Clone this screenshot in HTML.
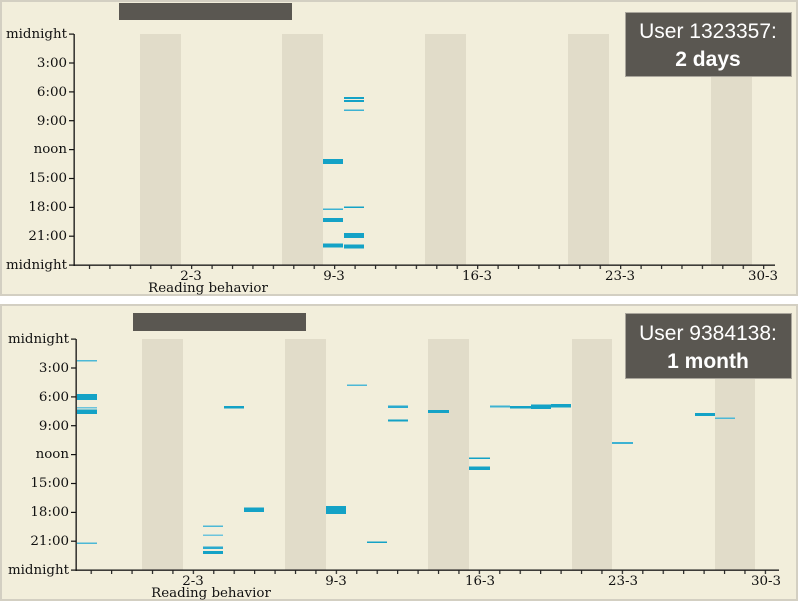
<!DOCTYPE html>
<html><head><meta charset="utf-8"><style>
html,body{margin:0;padding:0;background:#fff;}
svg{display:block;}
.t{font-family:"DejaVu Serif","Liberation Serif",serif;font-size:13.4px;fill:#111;}
.b{font-family:"Liberation Sans",sans-serif;font-size:21px;fill:#fff;}
</style></head><body>
<svg width="800" height="603" viewBox="0 0 800 603" xmlns="http://www.w3.org/2000/svg">
<defs>
<pattern id="tk1" x="88.9" y="0" width="20.43" height="10" patternUnits="userSpaceOnUse"><rect x="0" y="0" width="1.2" height="10" fill="#222"/></pattern>
<pattern id="tk2" x="90.6" y="0" width="20.43" height="10" patternUnits="userSpaceOnUse"><rect x="0" y="0" width="1.2" height="10" fill="#222"/></pattern>
</defs>
<!-- TOP PANEL -->
<rect x="1" y="1" width="796" height="294" fill="#f2eedb" stroke="#d3cfc2" stroke-width="2"/>
<g fill="#e1dcc9">
<rect x="140" y="34" width="41" height="231"/><rect x="282" y="34" width="41" height="231"/><rect x="425" y="34" width="41" height="231"/><rect x="568" y="34" width="41" height="231"/><rect x="711" y="34" width="41" height="231"/>
</g>
<rect x="119" y="3" width="173" height="17" fill="#5a5751"/>
<g fill="#14a2c6">
<rect x="323" y="159" width="20" height="5"/>
<rect x="323" y="208.5" width="20" height="1.5" fill="#3db2d2"/>
<rect x="323" y="218" width="20" height="4"/>
<rect x="323" y="243.5" width="20" height="4"/>
<rect x="344" y="97" width="20" height="2"/>
<rect x="344" y="100" width="20" height="2"/>
<rect x="344" y="109.5" width="20" height="1.5" fill="#3db2d2"/>
<rect x="344" y="206.5" width="20" height="1.5"/>
<rect x="344" y="233" width="20" height="5"/>
<rect x="344" y="244.5" width="20" height="4"/>
</g>
<rect x="73.5" y="34" width="1.3" height="232" fill="#111"/>
<rect x="74" y="264.5" width="701" height="1.3" fill="#111"/>
<rect x="88" y="265" width="682" height="4" fill="url(#tk1)"/>
<g fill="#111">
<rect x="69" y="33.5" width="5" height="1.2"/><rect x="69" y="62.4" width="5" height="1.2"/><rect x="69" y="91.3" width="5" height="1.2"/><rect x="69" y="120.1" width="5" height="1.2"/><rect x="69" y="149" width="5" height="1.2"/><rect x="69" y="177.9" width="5" height="1.2"/><rect x="69" y="206.8" width="5" height="1.2"/><rect x="69" y="235.6" width="5" height="1.2"/><rect x="69" y="264.5" width="5" height="1.2"/>
</g>
<g class="t" text-anchor="end">
<text x="67" y="38">midnight</text><text x="67" y="67">3:00</text><text x="67" y="96">6:00</text><text x="67" y="125">9:00</text><text x="67" y="153">noon</text><text x="67" y="182">15:00</text><text x="67" y="211">18:00</text><text x="67" y="240">21:00</text><text x="67" y="269">midnight</text>
</g>
<g class="t" text-anchor="middle">
<text x="191" y="280">2-3</text><text x="334" y="280">9-3</text><text x="477" y="280">16-3</text><text x="620" y="280">23-3</text><text x="763" y="280">30-3</text>
<text x="208" y="292">Reading behavior</text>
</g>
<rect x="625.5" y="12.5" width="166" height="64" fill="#5a5751" stroke="#aaa69c" stroke-width="1"/>
<text class="b" x="708" y="38" text-anchor="middle">User 1323357:</text>
<text class="b" x="708" y="66" text-anchor="middle" font-weight="bold">2 days</text>

<!-- BOTTOM PANEL -->
<rect x="1" y="305" width="796" height="295" fill="#f2eedb" stroke="#d3cfc2" stroke-width="2"/>
<g fill="#e1dcc9">
<rect x="142" y="339" width="41" height="231"/><rect x="285" y="339" width="41" height="231"/><rect x="428" y="339" width="41" height="231"/><rect x="572" y="339" width="40" height="231"/><rect x="715" y="339" width="40" height="231"/>
</g>
<rect x="133" y="313" width="173" height="18" fill="#5a5751"/>
<g fill="#14a2c6">
<rect x="77" y="360" width="20" height="1.5" fill="#4cb8d6"/>
<rect x="77" y="394" width="20" height="6"/>
<rect x="77" y="407" width="20" height="1.5" fill="#6cc4dc"/>
<rect x="77" y="409.5" width="20" height="4.5"/>
<rect x="77" y="542.5" width="20" height="1.5" fill="#4cb8d6"/>
<rect x="224" y="406" width="20" height="2.5"/>
<rect x="203" y="525.5" width="20" height="1.5" fill="#4cb8d6"/>
<rect x="203" y="534.5" width="20" height="1.5" fill="#6cc4dc"/>
<rect x="203" y="546.5" width="20" height="2.5" fill="#2aaace"/>
<rect x="203" y="551" width="20" height="3"/>
<rect x="244" y="507.5" width="20" height="4.5"/>
<rect x="326" y="506" width="20" height="8"/>
<rect x="347" y="384.5" width="20" height="1.5" fill="#4cb8d6"/>
<rect x="367" y="541.5" width="20" height="1.5"/>
<rect x="388" y="405.5" width="20" height="2.5" fill="#2aaace"/>
<rect x="388" y="419.5" width="20" height="2"/>
<rect x="428" y="410" width="21" height="3"/>
<rect x="469" y="457.5" width="21" height="1.5"/>
<rect x="469" y="466.5" width="21" height="3.5"/>
<rect x="490" y="405.5" width="20" height="2" fill="#3db2d2"/>
<rect x="510" y="406" width="21" height="2.5"/>
<rect x="531" y="404.5" width="20" height="4.5"/>
<rect x="551" y="404" width="20" height="3.5"/>
<rect x="612" y="442" width="21" height="2" fill="#3db2d2"/>
<rect x="695" y="413" width="20" height="3"/>
<rect x="715" y="417.5" width="20" height="1.5" fill="#4cb8d6"/>
</g>
<rect x="75.5" y="339" width="1.3" height="232" fill="#111"/>
<rect x="76" y="569.5" width="703" height="1.3" fill="#111"/>
<rect x="90" y="570" width="682" height="4" fill="url(#tk2)"/>
<g fill="#111">
<rect x="71" y="338.5" width="5" height="1.2"/><rect x="71" y="367.4" width="5" height="1.2"/><rect x="71" y="396.3" width="5" height="1.2"/><rect x="71" y="425.1" width="5" height="1.2"/><rect x="71" y="454" width="5" height="1.2"/><rect x="71" y="482.9" width="5" height="1.2"/><rect x="71" y="511.8" width="5" height="1.2"/><rect x="71" y="540.6" width="5" height="1.2"/><rect x="71" y="569.5" width="5" height="1.2"/>
</g>
<g class="t" text-anchor="end">
<text x="69" y="343">midnight</text><text x="69" y="372">3:00</text><text x="69" y="401">6:00</text><text x="69" y="430">9:00</text><text x="69" y="458">noon</text><text x="69" y="487">15:00</text><text x="69" y="516">18:00</text><text x="69" y="545">21:00</text><text x="69" y="574">midnight</text>
</g>
<g class="t" text-anchor="middle">
<text x="193" y="585">2-3</text><text x="336" y="585">9-3</text><text x="480" y="585">16-3</text><text x="623" y="585">23-3</text><text x="766" y="585">30-3</text>
<text x="211" y="597">Reading behavior</text>
</g>
<rect x="625.5" y="313.5" width="166" height="65" fill="#5a5751" stroke="#aaa69c" stroke-width="1"/>
<text class="b" x="708" y="340" text-anchor="middle">User 9384138:</text>
<text class="b" x="708" y="368" text-anchor="middle" font-weight="bold">1 month</text>
</svg>
</body></html>
